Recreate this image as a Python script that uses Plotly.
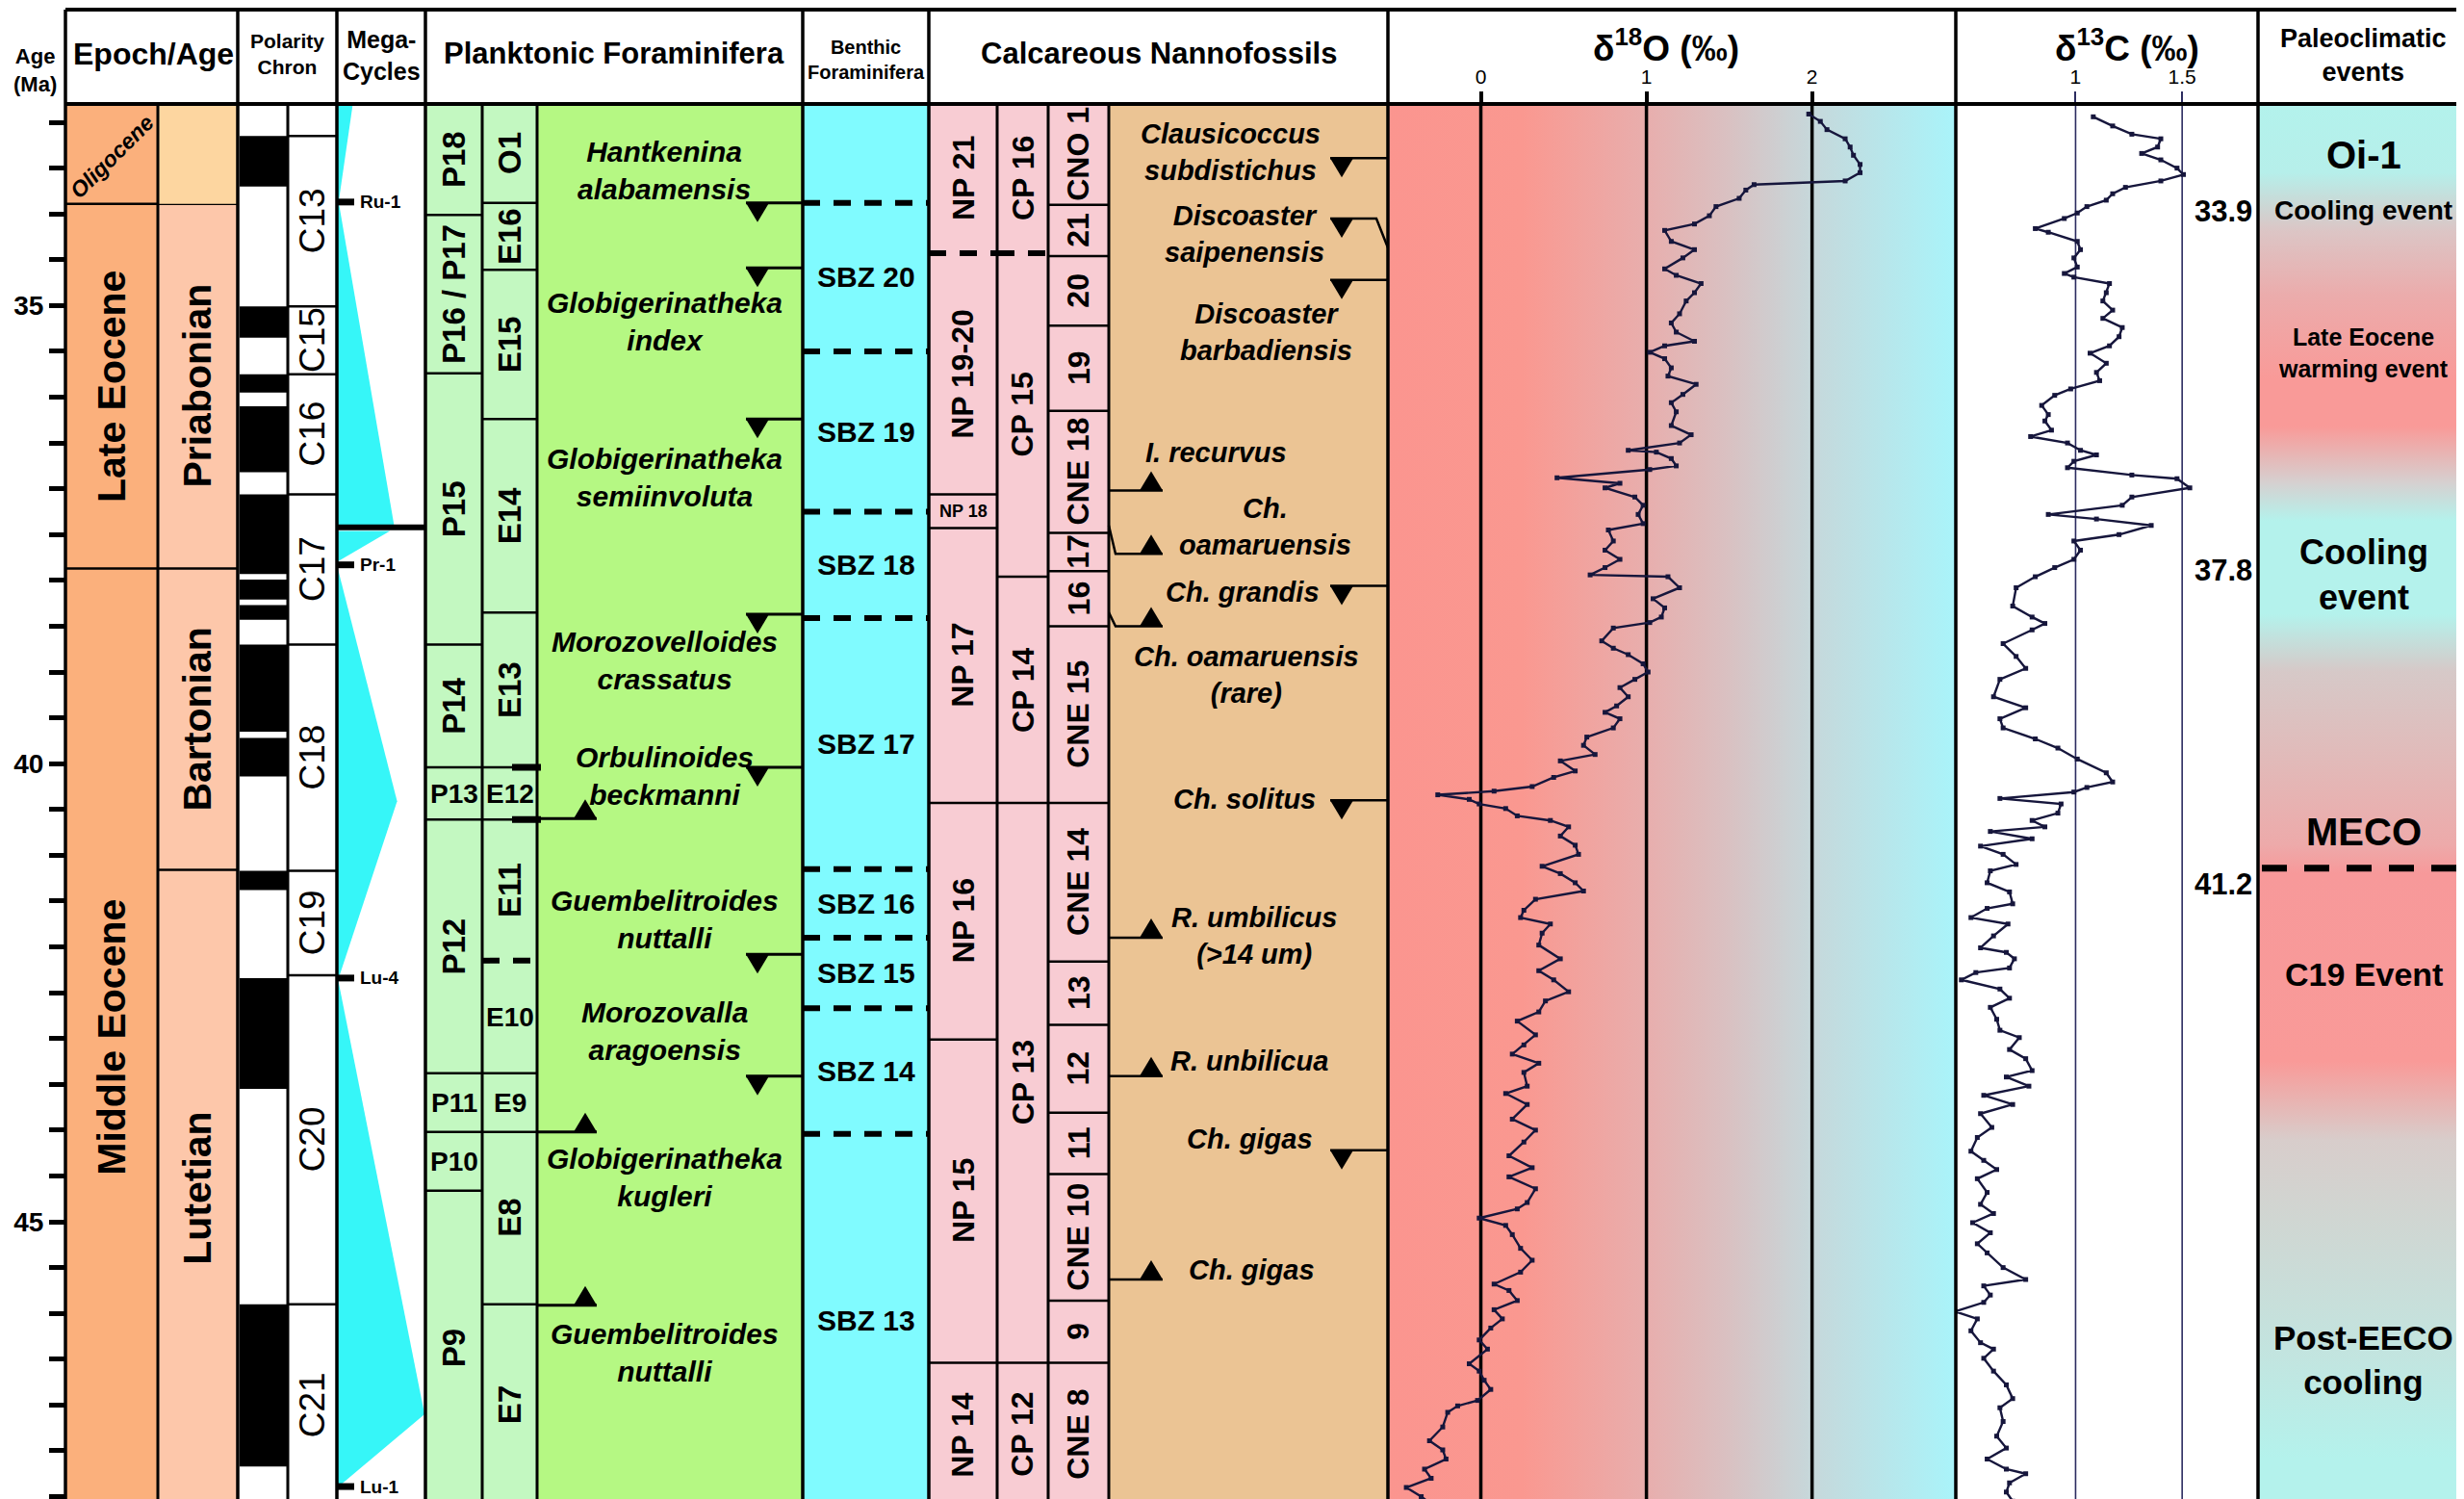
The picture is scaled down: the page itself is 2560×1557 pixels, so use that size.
import plotly.graph_objects as go

W, H = 2560, 1557
HEAD = 100                       # header band, px
Y_TOP, Y_BOT = 32.80, 48.11      # visible age window, Ma
AGE_PER_PX = (Y_BOT - Y_TOP) / (H - HEAD)

FONT = "Liberation Sans, Arial, sans-serif"

# ---------------- data (ages in Ma) ----------------
AGE_LABELS = [35, 40, 45]

EPOCH_BASES = [33.89, 37.87]
EPOCH_NAMES = ["Oligocene", "Late Eocene", "Middle Eocene"]
STAGE_BASES = [33.89, 37.87, 41.16]
STAGE_NAMES = ["", "Priabonian", "Bartonian", "Lutetian"]

NORMAL_TOP = [33.15, 35.01, 35.75, 36.10, 37.06, 37.99, 38.27, 38.70, 39.72, 41.17, 42.34, 45.90]
NORMAL_BASE = [33.70, 35.35, 35.95, 36.82, 37.93, 38.21, 38.43, 39.65, 40.14, 41.38, 43.55, 47.67]
CHRON_BASES = [33.15, 35.01, 35.75, 37.06, 38.70, 41.17, 42.31, 45.90]
CHRON_NAMES = ["", "C13", "C15", "C16", "C17", "C18", "C19", "C20", "C21"]

MEGA_AGES = [[32.80, 33.87], [33.87, 37.42], [37.46, 37.80], [37.83, 40.41, 42.34], [42.34, 47.10, 47.89]]
MEGA_AMP = [[0.18, 0.02], [0.02, 0.65], [0.60, 0.0], [0.0, 0.68, 0.02], [0.01, 0.99, 0.02]]
MEGA_BREAK = 37.42
SEQ_NAMES = ["Ru-1", "Pr-1", "Lu-4", "Lu-1"]
SEQ_AGES = [33.87, 37.83, 42.34, 47.89]

P_BASES = [34.01, 35.74, 38.70, 40.04, 40.61, 43.38, 44.02, 44.66]
P_NAMES = ["P18", "P16 / P17", "P15", "P14", "P13", "P12", "P11", "P10", "P9"]
E_BASES = [33.88, 34.61, 36.24, 38.35, 40.04, 40.61, 42.15, 43.38, 44.02, 45.90]
E_NAMES = ["O1", "E16", "E15", "E14", "E13", "E12", "E11", "E10", "E9", "E8", "E7"]
E_DASHED = [42.15]
E12_MARKS = [40.04, 40.61]

PF_TAXA = ["Hantkenina<br>alabamensis", "Globigerinatheka<br>index", "Globigerinatheka<br>semiinvoluta",
           "Morozovelloides<br>crassatus", "Orbulinoides<br>beckmanni", "Guembelitroides<br>nuttalli",
           "Morozovalla<br>aragoensis", "Globigerinatheka<br>kugleri", "Guembelitroides<br>nuttalli"]
PF_TAXA_AGE = [33.52, 35.17, 36.88, 38.87, 40.13, 41.70, 42.92, 44.52, 46.43]
PF_LO = [33.88, 34.59, 36.24, 38.37, 40.04, 42.08, 43.41]
PF_FO = [40.60, 44.02, 45.91]

SBZ_BASES = [33.88, 35.50, 37.25, 38.41, 41.15, 41.90, 42.67, 44.04]
SBZ_NAMES = ["", "SBZ 20", "SBZ 19", "SBZ 18", "SBZ 17", "SBZ 16", "SBZ 15", "SBZ 14", "SBZ 13"]

NP_BASES = [34.43, 37.06, 37.43, 40.43, 43.01, 46.54]
NP_NAMES = ["NP 21", "NP 19-20", "NP 18", "NP 17", "NP 16", "NP 15", "NP 14"]
CP_BASES = [34.43, 37.96, 40.43, 46.54]
CP_NAMES = ["CP 16", "CP 15", "CP 14", "CP 13", "CP 12"]
CNE_BASES = [33.90, 34.46, 35.22, 36.15, 37.48, 37.90, 38.50, 40.43, 42.16, 42.85, 43.81, 44.48, 45.86, 46.54]
CNE_NAMES = ["CNO 1", "21", "20", "19", "CNE 18", "17", "16", "CNE 15", "CNE 14", "13", "12", "11",
             "CNE 10", "9", "CNE 8"]
NANNO_DASHED = [34.43]

NN_TAXA = ["Clausicoccus<br>subdistichus", "Discoaster<br>saipenensis", "Discoaster<br>barbadiensis",
           "I. recurvus", "Ch.<br>oamaruensis", "Ch. grandis", "Ch. oamaruensis<br>(rare)", "Ch. solitus",
           "R. umbilicus<br>(&gt;14 um)", "R. unbilicua", "Ch. gigas", "Ch. gigas"]
NN_TAXA_AGE = [33.33, 34.22, 35.29, 36.60, 37.41, 38.13, 39.03, 40.39, 41.88, 43.25, 44.10, 45.52]
NN_TAXA_X = [1270, 1285, 1307, 1255, 1306, 1283, 1287, 1285, 1295, 1290, 1290, 1292]
NN_LO = [33.39, 34.05, 34.72, 38.06, 40.40, 44.22]
NN_LO_LINK = [33.39, 34.37, 34.72, 38.06, 40.40, 44.22]
NN_FO = [37.02, 37.71, 38.50, 41.90, 43.41, 45.63]
NN_FO_LINK = [37.02, 37.40, 38.35, 41.90, 43.41, 45.63]

D18O_TICKS = [0, 1, 2]
D18O_AGE = [32.91, 32.99, 33.08, 33.18, 33.27, 33.36, 33.46, 33.55, 33.64, 33.68, 33.74, 33.83, 33.92,
            34.02, 34.11, 34.18, 34.30, 34.39, 34.48, 34.60, 34.67, 34.76, 34.86, 34.95, 35.09, 35.19,
            35.29, 35.39, 35.44, 35.51, 35.58, 35.68, 35.77, 35.86, 35.97, 36.06, 36.16, 36.31, 36.41,
            36.50, 36.58, 36.60, 36.67, 36.75, 36.79, 36.88, 36.94, 36.99, 37.09, 37.18, 37.28, 37.38,
            37.45, 37.57, 37.67, 37.77, 37.86, 37.94, 37.96, 38.08, 38.20, 38.30, 38.40, 38.46, 38.52,
            38.66, 38.74, 38.81, 38.91, 39.00, 39.08, 39.17, 39.27, 39.37, 39.44, 39.51, 39.61, 39.71,
            39.80, 39.90, 39.97, 40.08, 40.15, 40.25, 40.30, 40.34, 40.39, 40.44, 40.49, 40.57, 40.62,
            40.69, 40.79, 40.89, 40.99, 41.12, 41.20, 41.30, 41.39, 41.48, 41.60, 41.68, 41.75, 41.85,
            41.98, 42.13, 42.26, 42.36, 42.49, 42.59, 42.71, 42.81, 42.96, 43.07, 43.17, 43.27, 43.37,
            43.52, 43.60, 43.72, 43.88, 44.00, 44.13, 44.28, 44.41, 44.51, 44.64, 44.79, 44.86, 44.96,
            45.04, 45.14, 45.29, 45.42, 45.55, 45.68, 45.75, 45.86, 45.96, 46.06, 46.16, 46.29, 46.39,
            46.55, 46.63, 46.73, 46.83, 46.95, 47.01, 47.08, 47.24, 47.39, 47.49, 47.59, 47.70, 47.80,
            47.90, 48.00, 48.08]
D18O_VAL = [1.98, 2.05, 2.09, 2.20, 2.23, 2.25, 2.29, 2.29, 2.20, 1.65, 1.60, 1.56, 1.42,
            1.38, 1.29, 1.11, 1.15, 1.29, 1.22, 1.11, 1.18, 1.33, 1.29, 1.24, 1.20, 1.15,
            1.18, 1.29, 1.11, 1.02, 1.11, 1.15, 1.13, 1.30, 1.22, 1.15, 1.18, 1.15, 1.27,
            1.20, 0.89, 1.06, 1.15, 1.18, 1.02, 0.46, 0.84, 0.75, 0.93, 0.98, 0.95, 0.98,
            0.77, 0.80, 0.75, 0.84, 0.75, 0.66, 1.13, 1.20, 1.04, 1.11, 1.09, 1.02, 0.80,
            0.73, 0.80, 0.89, 0.98, 1.01, 0.93, 0.84, 0.89, 0.82, 0.75, 0.84, 0.80, 0.64,
            0.62, 0.69, 0.48, 0.57, 0.44, 0.31, 0.08, -0.26, -0.07, -0.01, 0.15, 0.22, 0.42,
            0.53, 0.48, 0.57, 0.59, 0.37, 0.48, 0.57, 0.62, 0.33, 0.26, 0.24, 0.42, 0.37,
            0.35, 0.48, 0.35, 0.44, 0.53, 0.39, 0.35, 0.22, 0.33, 0.26, 0.19, 0.35, 0.26,
            0.28, 0.15, 0.28, 0.19, 0.33, 0.26, 0.17, 0.31, 0.17, 0.33, 0.28, 0.22, -0.01,
            0.15, 0.19, 0.24, 0.31, 0.24, 0.08, 0.17, 0.22, 0.08, 0.13, 0.06, -0.01, 0.04,
            -0.07, -0.01, 0.02, 0.06, -0.02, -0.14, -0.20, -0.23, -0.31, -0.23, -0.21, -0.34, -0.30,
            -0.45, -0.36, -0.30]

D13C_TICKS = [1, 1.5]
D13C_AGE = [32.94, 33.04, 33.13, 33.18, 33.27, 33.34, 33.41, 33.50, 33.57, 33.64, 33.71, 33.78, 33.85,
            33.92, 33.99, 34.05, 34.16, 34.20, 34.30, 34.39, 34.48, 34.58, 34.65, 34.69, 34.76, 34.86,
            34.95, 35.05, 35.14, 35.24, 35.34, 35.44, 35.52, 35.63, 35.73, 35.82, 35.91, 35.98, 36.09,
            36.19, 36.26, 36.36, 36.43, 36.50, 36.58, 36.63, 36.70, 36.77, 36.85, 36.89, 36.99, 37.09,
            37.18, 37.28, 37.33, 37.40, 37.50, 37.57, 37.67, 37.77, 37.86, 37.96, 38.08, 38.28, 38.40,
            38.47, 38.54, 38.69, 38.83, 38.96, 39.08, 39.27, 39.39, 39.51, 39.61, 39.73, 39.83, 39.95,
            40.10, 40.20, 40.26, 40.31, 40.38, 40.44, 40.54, 40.62, 40.69, 40.74, 40.82, 40.90, 40.99,
            41.10, 41.17, 41.30, 41.40, 41.53, 41.58, 41.68, 41.75, 41.88, 42.01, 42.06, 42.13, 42.23,
            42.28, 42.36, 42.46, 42.56, 42.66, 42.79, 42.91, 42.99, 43.12, 43.22, 43.35, 43.42, 43.52,
            43.62, 43.72, 43.82, 43.97, 44.08, 44.23, 44.33, 44.43, 44.53, 44.68, 44.81, 44.91, 45.01,
            45.12, 45.24, 45.34, 45.50, 45.63, 45.70, 45.80, 45.88, 45.98, 46.06, 46.19, 46.32, 46.39,
            46.49, 46.63, 46.78, 46.93, 47.03, 47.18, 47.34, 47.47, 47.59, 47.70, 47.75, 47.85, 47.95,
            48.05, 48.13]
D13C_VAL = [1.083, 1.174, 1.264, 1.400, 1.385, 1.310, 1.400, 1.476, 1.506, 1.400, 1.234, 1.174, 1.144,
            1.053, 1.008, 0.947, 0.811, 0.872, 1.008, 1.023, 0.992, 1.008, 0.947, 0.992, 1.159, 1.144,
            1.128, 1.174, 1.128, 1.219, 1.204, 1.159, 1.068, 1.144, 1.098, 1.113, 0.977, 0.902, 0.841,
            0.872, 0.856, 0.887, 0.789, 0.962, 1.023, 1.098, 0.992, 0.962, 1.264, 1.476, 1.536, 1.264,
            1.219, 0.872, 1.098, 1.355, 1.204, 0.992, 1.023, 0.992, 0.902, 0.811, 0.721, 0.705, 0.796,
            0.856, 0.796, 0.660, 0.721, 0.766, 0.645, 0.615, 0.766, 0.645, 0.660, 0.811, 0.917, 1.008,
            1.144, 1.174, 1.053, 0.992, 0.645, 0.932, 0.917, 0.796, 0.856, 0.600, 0.796, 0.554, 0.660,
            0.721, 0.600, 0.585, 0.690, 0.705, 0.585, 0.509, 0.683, 0.615, 0.554, 0.675, 0.713, 0.690,
            0.532, 0.464, 0.645, 0.690, 0.600, 0.630, 0.645, 0.736, 0.690, 0.766, 0.796, 0.675, 0.781,
            0.569, 0.705, 0.554, 0.607, 0.539, 0.509, 0.569, 0.630, 0.539, 0.585, 0.554, 0.615, 0.517,
            0.600, 0.539, 0.585, 0.660, 0.766, 0.569, 0.600, 0.569, 0.434, 0.539, 0.509, 0.554, 0.615,
            0.569, 0.615, 0.675, 0.705, 0.645, 0.660, 0.630, 0.675, 0.585, 0.675, 0.766, 0.690, 0.675,
            0.705, 0.630]
CURVE_AGE_MARKS = ["33.9", "37.8", "41.2"]
CURVE_AGE_MARK_AT = [33.97, 37.89, 41.32]

PALEO_EVENTS = ["Oi-1", "Cooling event", "Late Eocene<br>warming event", "Cooling<br>event", "MECO",
                "C19 Event", "Post-EECO<br>cooling"]
PALEO_EVENT_AGE = [33.36, 33.96, 35.52, 37.94, 40.74, 42.30, 46.51]
PALEO_EVENT_SIZE = [40, 28, 25, 36, 40, 34, 35]
MECO_LINE = 41.14
PALEO_BG = [(32.80, "#B3F2EC"), (33.55, "#B6EFEA"), (34.19, "#DCC5C5"), (34.88, "#EBACAC"),
            (35.80, "#F99A98"), (36.32, "#F99A98"), (36.93, "#D6D0D0"), (37.35, "#B4F2EC"),
            (38.37, "#B4F2EC"), (38.99, "#D6C9C8"), (40.02, "#E2B9B8"), (40.88, "#EDAAAA"),
            (41.20, "#F7999A"), (43.25, "#F99A98"), (44.11, "#D8CDCB"), (44.97, "#D0D6D2"),
            (46.49, "#C2E5E0"), (47.58, "#B4F2EC"), (48.11, "#B4F2EC")]
D18O_BG = [(-0.561, "#FB958F"), (0.25, "#FA9890"), (1.0, "#E8AEAD"), (1.5, "#D9C1C2"),
           (2.0, "#C6D8DB"), (2.868, "#A9F4FA")]

# ---------------- layout columns (px) ----------------
AX = 60
EPOCH, STAGE = (60, 156), (156, 239)
POL, POL_SPLIT = (239, 342), 291
MEGA = (342, 434)
PZ, EZ, PSP = (434, 493), (493, 550), (550, 826)
BENTH = (826, 957)
NPC, CPC, CNEC, NSP = (957, 1028), (1028, 1081), (1081, 1144), (1144, 1434)
D18O_COL, D13C_COL, PALEO = (1434, 2024), (2024, 2338), (2338, 2557)
D18O_RANGE, D13C_RANGE = [-0.561, 2.868], [0.438, 1.856]

shapes, ann = [], []


def py(px):
    return 1 - px / H


def rect(x0, x1, a0, a1, fill):
    shapes.append(dict(type="rect", xref="x", yref="y", x0=x0, x1=x1, y0=a0, y1=a1,
                       fillcolor=fill, line=dict(width=0), layer="below"))


def hline(x0, x1, a, lw=2.5, dash="solid", layer="below"):
    shapes.append(dict(type="line", xref="x", yref="y", x0=x0, x1=x1, y0=a, y1=a,
                       line=dict(color="black", width=lw, dash=dash), layer=layer))


def vline(x, p0, p1, lw=3):
    shapes.append(dict(type="line", xref="x", yref="paper", x0=x, x1=x, y0=p0, y1=p1,
                       line=dict(color="black", width=lw), layer="above"))


def text(x, a, s, size, angle=0, yref="y", xanchor="center"):
    ann.append(dict(x=x, y=a, xref="x", yref=yref, text=s, showarrow=False, textangle=angle,
                    font=dict(family=FONT, size=size, color="black"),
                    xanchor=xanchor, yanchor="middle"))


def tri(x, a, up, w=24, h=20):
    dh = h * AGE_PER_PX * (-1 if up else 1)
    shapes.append(dict(type="path", xref="x", yref="y", layer="above",
                       path=f"M {x - w / 2},{a} L {x + w / 2},{a} L {x},{a + dh} Z",
                       fillcolor="black", line=dict(width=0)))


def poly(points, lw=2, layer="below", fill=None):
    path = "M " + " L ".join(f"{x},{a}" for x, a in points)
    shapes.append(dict(type="path", xref="x", yref="y", path=path + (" Z" if fill else ""), layer=layer,
                       fillcolor=fill if fill else "rgba(0,0,0,0)",
                       line=dict(color="black", width=lw if not fill else 0)))


def zones(col, bases, names, fill, size, flat=(), flat_size=None, dashed=(), bold=True):
    x0, x1 = col
    edges = [Y_TOP] + list(bases) + [Y_BOT]
    rect(x0, x1, Y_TOP, Y_BOT, fill)
    for b in bases:
        if b in dashed:
            hline(x0, x1, b, lw=6, dash="18px,14px")
        else:
            hline(x0, x1, b)
    for i, name in enumerate(names):
        if name:
            s = f"<b>{name}</b>" if bold else name
            is_flat = name in flat
            text((x0 + x1) / 2, (edges[i] + edges[i + 1]) / 2, s,
                 (flat_size or size) if is_flat else size, 0 if is_flat else -90)


# ---- epoch / stage ----
zones(EPOCH, EPOCH_BASES, ["", EPOCH_NAMES[1], EPOCH_NAMES[2]], "#FBB07C", 41)
text(sum(EPOCH) / 2, 33.38, f"<b><i>{EPOCH_NAMES[0]}</i></b>", 23, -45)
zones(STAGE, STAGE_BASES, STAGE_NAMES, "#FDC7AA", 41)
rect(STAGE[0], STAGE[1], Y_TOP, STAGE_BASES[0], "#FDD6A0")

# ---- polarity ----
rect(POL[0], POL[1], Y_TOP, Y_BOT, "white")
for t, b in zip(NORMAL_TOP, NORMAL_BASE):
    rect(POL[0] + 2, POL_SPLIT, t, b, "black")
chron_edges = [Y_TOP] + CHRON_BASES + [Y_BOT]
for b in CHRON_BASES:
    hline(POL_SPLIT, POL[1], b)
for i, name in enumerate(CHRON_NAMES):
    if name:
        text((POL_SPLIT + POL[1]) / 2, (chron_edges[i] + chron_edges[i + 1]) / 2, name, 37, -90)

# ---- mega-cycles ----
rect(MEGA[0], MEGA[1], Y_TOP, Y_BOT, "white")
mw = MEGA[1] - MEGA[0]
for ages, amps in zip(MEGA_AGES, MEGA_AMP):
    pts = [(MEGA[0], ages[0])] + [(MEGA[0] + f * mw, a) for a, f in zip(ages, amps)] + [(MEGA[0], ages[-1])]
    poly(pts, fill="#36F6F8")
hline(MEGA[0], MEGA[1], MEGA_BREAK, lw=6)
for name, a in zip(SEQ_NAMES, SEQ_AGES):
    hline(MEGA[0], MEGA[0] + 18, a, lw=7)
    text(MEGA[0] + 22, a, f"<b>{name}</b>", 19, xanchor="left")

# ---- planktonic foraminifera ----
zones(PZ, P_BASES, P_NAMES, "#C3F8C1", 33, flat=("P13", "P11", "P10"), flat_size=28)
zones(EZ, E_BASES, E_NAMES, "#C3F8C1", 33, flat=("E12", "E10", "E9"), flat_size=28, dashed=E_DASHED)
for a in E12_MARKS:
    hline(EZ[1] - 26, EZ[1] + 4, a, lw=7, layer="above")
rect(PSP[0], PSP[1], Y_TOP, Y_BOT, "#B5F883")
for s, a in zip(PF_TAXA, PF_TAXA_AGE):
    text(682, a, f"<b><i>{s}</i></b>", 30)
for a in PF_LO:
    hline(767, PSP[1], a, lw=3)
    tri(779, a, up=False)
for a in PF_FO:
    hline(PSP[0], 612, a, lw=3)
    tri(600, a, up=True)

# ---- benthic foraminifera ----
zones(BENTH, SBZ_BASES, SBZ_NAMES, "#80FBFF", 30, flat=SBZ_NAMES, dashed=SBZ_BASES)

# ---- calcareous nannofossils ----
zones(NPC, NP_BASES, NP_NAMES, "#F8CCD3", 32, flat=("NP 18",), flat_size=18, dashed=NANNO_DASHED)
zones(CPC, CP_BASES, CP_NAMES, "#F8CCD3", 32, dashed=NANNO_DASHED)
zones(CNEC, CNE_BASES, CNE_NAMES, "#F8CCD3", 32)
rect(NSP[0], NSP[1], Y_TOP, Y_BOT, "#EBC494")
for s, a, x in zip(NN_TAXA, NN_TAXA_AGE, NN_TAXA_X):
    text(x, a, f"<b><i>{s}</i></b>", 29)
for a, link in zip(NN_LO, NN_LO_LINK):
    poly([(1374, a), (1422, a), (NSP[1], link)], lw=2.5)
    tri(1386, a, up=False)
for a, link in zip(NN_FO, NN_FO_LINK):
    poly([(NSP[0], link), (1151, a), (1200, a)], lw=2.5)
    tri(1188, a, up=True)

# ---- figure ----
fig = go.Figure()


def scale(stops, lo, hi):
    return [[(v - lo) / (hi - lo), c] for v, c in stops]


# palaeoclimate background
fig.add_trace(go.Scatter(
    x=[PALEO[0], PALEO[1], PALEO[1], PALEO[0], PALEO[0]], y=[Y_TOP, Y_TOP, Y_BOT, Y_BOT, Y_TOP],
    mode="lines", line=dict(width=0), fill="toself", hoverinfo="skip",
    fillgradient=dict(type="vertical", start=Y_TOP, stop=Y_BOT, colorscale=scale(PALEO_BG, Y_TOP, Y_BOT))))

# d18O panel
lo, hi = D18O_RANGE
fig.add_trace(go.Scatter(
    x=[lo, hi, hi, lo, lo], y=[Y_TOP, Y_TOP, Y_BOT, Y_BOT, Y_TOP], xaxis="x2", yaxis="y",
    mode="lines", line=dict(width=0), fill="toself", hoverinfo="skip",
    fillgradient=dict(type="horizontal", start=lo, stop=hi, colorscale=scale(D18O_BG, lo, hi))))
for v in D18O_TICKS:
    fig.add_trace(go.Scatter(x=[v, v], y=[Y_TOP, Y_BOT], xaxis="x2", yaxis="y", mode="lines",
                             line=dict(color="black", width=3.5), hoverinfo="skip"))
fig.add_trace(go.Scatter(x=D18O_VAL, y=D18O_AGE, xaxis="x2", yaxis="y", mode="lines+markers",
                         line=dict(color="#16163C", width=2.4),
                         marker=dict(symbol="square", size=5, color="#16163C")))

# d13C panel
for v in D13C_TICKS:
    fig.add_trace(go.Scatter(x=[v, v], y=[Y_TOP, Y_BOT], xaxis="x3", yaxis="y", mode="lines",
                             line=dict(color="#2C2C60", width=1.6), hoverinfo="skip"))
fig.add_trace(go.Scatter(x=D13C_VAL, y=D13C_AGE, xaxis="x3", yaxis="y", mode="lines+markers",
                         line=dict(color="#16163C", width=2.4),
                         marker=dict(symbol="square", size=5, color="#16163C")))
for s, a in zip(CURVE_AGE_MARKS, CURVE_AGE_MARK_AT):
    text(2302, a, f"<b>{s}</b>", 31)

# palaeoclimatic events
for s, a, sz in zip(PALEO_EVENTS, PALEO_EVENT_AGE, PALEO_EVENT_SIZE):
    text(sum(PALEO) / 2, a, f"<b>{s}</b>", sz)
hline(PALEO[0] + 4, PALEO[1] - 4, MECO_LINE, lw=7, dash="26px,18px", layer="above")

# ---- frame and header ----
for x in [AX, POL[0], MEGA[0], PZ[0], BENTH[0], NPC[0], D18O_COL[0], D13C_COL[0], PALEO[0], PALEO[1]]:
    vline(x, 0, py(2), lw=3.5)
for x in [EPOCH[1], POL_SPLIT, EZ[0], PSP[0], CPC[0], CNEC[0], NSP[0]]:
    vline(x, 0, py(HEAD), lw=3)
for p in [2, HEAD, H - 2]:
    shapes.append(dict(type="line", xref="x", yref="paper", x0=AX, x1=PALEO[1], y0=py(p), y1=py(p),
                       line=dict(color="black", width=4), layer="above"))

header = [((AX + POL[0]) / 2 + 2, 48, "Epoch/Age", 32),
          (sum(POL) / 2, 48, "Polarity<br>Chron", 21),
          (sum(MEGA) / 2, 50, "Mega-<br>Cycles", 25),
          ((PZ[0] + PSP[1]) / 2, 48, "Planktonic Foraminifera", 31),
          (sum(BENTH) / 2, 54, "Benthic<br>Foraminifera", 20),
          ((NPC[0] + NSP[1]) / 2, 48, "Calcareous Nannofossils", 31),
          (1723, 40, "δ<sup>18</sup>O (‰)", 37),
          (2202, 40, "δ<sup>13</sup>C (‰)", 37),
          (sum(PALEO) / 2, 49, "Paleoclimatic<br>events", 27),
          (28, 65, "Age<br>(Ma)", 22)]
for x, p, s, sz in header:
    text(x, py(p), f"<b>{s}</b>", sz, yref="paper")

axis_font = dict(family=FONT, size=21, color="black")
fig.update_layout(
    width=W, height=H, margin=dict(l=0, r=0, t=0, b=0), showlegend=False,
    paper_bgcolor="white", plot_bgcolor="white",
    shapes=shapes, annotations=ann,
    xaxis=dict(domain=[0, 1], range=[0, W], visible=False, fixedrange=True),
    yaxis=dict(domain=[0, 1 - HEAD / H], range=[Y_BOT, Y_TOP], anchor="free", position=AX / W,
               showline=False, showgrid=False, zeroline=False,
               ticks="outside", ticklen=17, tickwidth=5, tickcolor="black",
               tickmode="array", tickvals=AGE_LABELS, ticktext=[str(v) for v in AGE_LABELS],
               tickfont=dict(family=FONT, size=28, color="black", weight="bold"),
               minor=dict(ticks="outside", ticklen=17, tickwidth=5, tickcolor="black",
                          tickmode="linear", tick0=33, dtick=0.5)),
    xaxis2=dict(domain=[D18O_COL[0] / W, D18O_COL[1] / W], range=D18O_RANGE, anchor="y", side="top",
                ticks="outside", ticklen=12, tickwidth=3.5, tickcolor="black",
                tickmode="array", tickvals=D18O_TICKS, tickfont=axis_font,
                showgrid=False, zeroline=False, showline=False),
    xaxis3=dict(domain=[D13C_COL[0] / W, D13C_COL[1] / W], range=D13C_RANGE, anchor="y", side="top",
                ticks="outside", ticklen=12, tickwidth=2, tickcolor="#2C2C60",
                tickmode="array", tickvals=D13C_TICKS, ticktext=["1", "1.5"], tickfont=axis_font,
                showgrid=False, zeroline=False, showline=False),
)

fig.write_html("out.html")
